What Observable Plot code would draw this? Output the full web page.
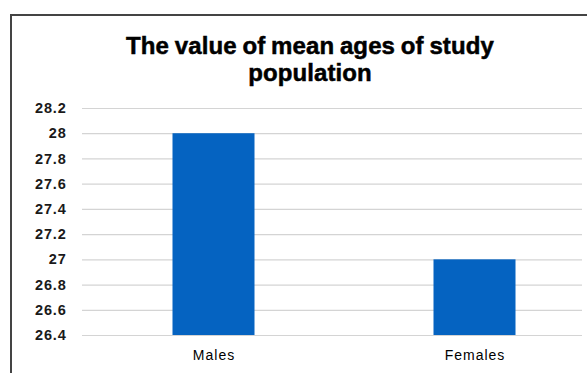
<!DOCTYPE html>
<html>
<head>
<meta charset="utf-8">
<script src="https://cdn.jsdelivr.net/npm/d3@7"></script>
<script src="https://cdn.jsdelivr.net/npm/@observablehq/plot@0.6"></script>
<style>
  html, body { margin: 0; padding: 0; background: #fff; }
  #page { position: relative; width: 587px; height: 373px; overflow: hidden; background: #fff; }
  #frame { position: absolute; left: 10px; top: 14px; width: 600px; height: 400px; border-left: 2px solid #444; border-top: 2px solid #444; }
  #title { position: absolute; left: 0; top: 32px; width: 620px; text-align: center; font-family: "Liberation Sans", Arial, sans-serif; font-weight: bold; font-size: 24px; line-height: 27px; letter-spacing: 0.1px; word-spacing: -1px; color: #000; -webkit-text-stroke: 0.5px #000; }
  #chart { position: absolute; left: 0; top: 95px; }
  #chart svg g[aria-label="y-axis tick label"] text { letter-spacing: 0.8px; }
  #chart svg g[aria-label="x-axis tick label"] text { letter-spacing: 1px; }
</style>
</head>
<body>
<div id="page">
  <div id="frame"></div>
  <div id="title">The value of mean ages of study<br>population</div>
  <div id="chart"></div>
</div>
<script>
const categories = ["Males", "Females"];
const meanAges = [28, 27];
const yTicks = [26.4, 26.6, 26.8, 27, 27.2, 27.4, 27.6, 27.8, 28, 28.2];

const data = categories.map((c, i) => ({category: c, value: meanAges[i]}));
const fmt = d => String(+d.toFixed(1));

const chart = Plot.plot({
  width: 587,
  height: 278,
  marginTop: 13,
  marginBottom: 38,
  marginLeft: 82,
  marginRight: 5,
  style: {fontFamily: "'Liberation Sans', Arial, sans-serif", fontSize: "14px", color: "#111", background: "transparent"},
  x: {domain: categories, range: [82.5, 604.5], padding: 0, label: null},
  y: {domain: [26.4, 28.2], label: null},
  marks: [
    Plot.ruleY(yTicks, {stroke: "#d4d4d4", strokeWidth: 1.2}),
    Plot.barY(data, {x: "category", y1: 26.4, y2: "value", fill: "#0563c1", insetLeft: 89.5, insetRight: 89.5}),
    Plot.axisY({ticks: yTicks, tickSize: 0, tickPadding: 16, tickFormat: fmt, fontWeight: "bold", fontSize: 14.5, fill: "#1a1a1a"}),
    Plot.axisX({tickSize: 0, tickPadding: 15, fontSize: 14, fill: "#000"})
  ]
});
document.getElementById("chart").appendChild(chart);
</script>
</body>
</html>
